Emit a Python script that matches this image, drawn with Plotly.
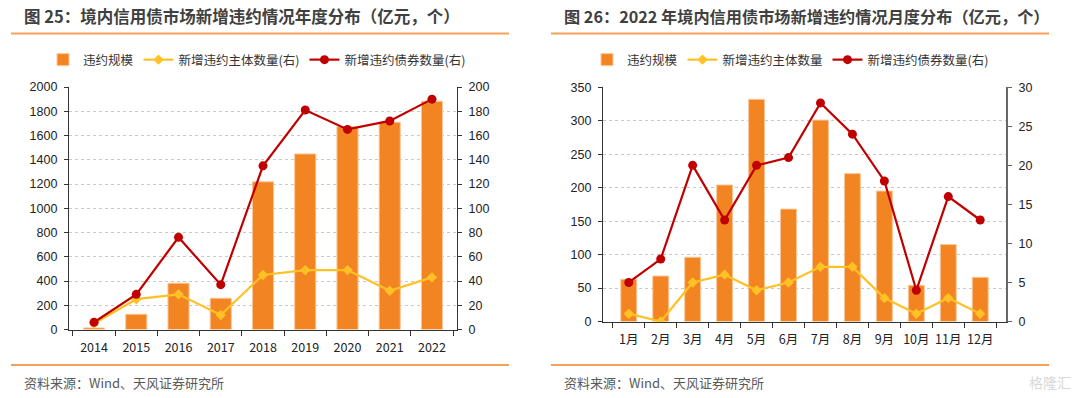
import plotly.graph_objects as go

# ---------------- data ----------------
years = ["2014", "2015", "2016", "2017", "2018", "2019", "2020", "2021", "2022"]
year_scale = [13, 126, 382, 258, 1218, 1448, 1673, 1709, 1882]
year_issuers = [5, 25, 29, 12, 45, 49, 49, 32, 43]
year_bonds = [6, 29, 76, 37, 135, 181, 165, 172, 190]

months = ["1月", "2月", "3月", "4月", "5月", "6月", "7月", "8月", "9月", "10月", "11月", "12月"]
month_scale = [63, 68, 96, 204, 332, 168, 301, 221, 195, 54, 115, 66]
month_issuers = [1, 0, 5, 6, 4, 5, 7, 7, 3, 1, 3, 1]
month_bonds = [5, 8, 20, 13, 20, 21, 28, 24, 18, 4, 16, 13]

left_ticks = [0, 200, 400, 600, 800, 1000, 1200, 1400, 1600, 1800, 2000]
left_ticks_r = [0, 20, 40, 60, 80, 100, 120, 140, 160, 180, 200]
right_ticks = [0, 50, 100, 150, 200, 250, 300, 350]
right_ticks_r = [0, 5, 10, 15, 20, 25, 30]

title_left = "图 25：境内信用债市场新增违约情况年度分布（亿元，个）"
title_right = "图 26：2022 年境内信用债市场新增违约情况月度分布（亿元，个）"
source_text = "资料来源：Wind、天风证券研究所"

# ---------------- style ----------------
ORANGE = "#F28522"
YELLOW = "#FFC125"
RED = "#C00000"
LINE_ORANGE = "#F5A05A"
CJK = "Noto Sans CJK SC"
NUM = "Liberation Sans, Arial, sans-serif"
W, H = 1080, 398

def px_x(x):
    return x / W

def px_y(y):
    return (H - y) / H

fig = go.Figure()

# left panel
fig.add_trace(go.Bar(x=years, y=year_scale, name="违约规模", marker=dict(color=ORANGE, line=dict(color="#F9C79B", width=1)),
                     width=0.5, xaxis="x", yaxis="y", legend="legend"))
fig.add_trace(go.Scatter(x=years, y=year_issuers, name="新增违约主体数量(右)", mode="lines+markers",
                         line=dict(color=YELLOW, width=2.2), marker=dict(symbol="diamond", size=8, color=YELLOW),
                         xaxis="x", yaxis="y2", legend="legend"))
fig.add_trace(go.Scatter(x=years, y=year_bonds, name="新增违约债券数量(右)", mode="lines+markers",
                         line=dict(color=RED, width=2.2), marker=dict(symbol="circle", size=9, color=RED),
                         xaxis="x", yaxis="y2", legend="legend"))

# right panel
fig.add_trace(go.Bar(x=months, y=month_scale, name="违约规模", marker=dict(color=ORANGE, line=dict(color="#F9C79B", width=1)),
                     width=0.5, xaxis="x2", yaxis="y3", legend="legend2"))
fig.add_trace(go.Scatter(x=months, y=month_issuers, name="新增违约主体数量", mode="lines+markers",
                         line=dict(color=YELLOW, width=2.2), marker=dict(symbol="diamond", size=8, color=YELLOW),
                         xaxis="x2", yaxis="y4", legend="legend2"))
fig.add_trace(go.Scatter(x=months, y=month_bonds, name="新增违约债券数量(右)", mode="lines+markers",
                         line=dict(color=RED, width=2.2), marker=dict(symbol="circle", size=9, color=RED),
                         xaxis="x2", yaxis="y4", legend="legend2"))

tickfont = dict(family=NUM, size=12.5, color="#222222")
xtickfont = dict(family=CJK + ", " + NUM, size=12.5, color="#222222")

def yax(domain, rng, ticks, side="left", overlay=None, anchor=None, grid=True, linecolor="#333333", linewidth=1.2):
    d = dict(domain=domain, range=rng, tickvals=ticks, ticktext=[str(t) for t in ticks],
             side=side, showline=True, linecolor=linecolor, linewidth=linewidth,
             ticks="outside", ticklen=4, tickcolor=linecolor, tickfont=tickfont,
             showgrid=grid, gridcolor="#C8C8C8", griddash="dot", gridwidth=1,
             zeroline=False, fixedrange=True, ticklabelstandoff=4, automargin=False)
    if overlay:
        d["overlaying"] = overlay
    if anchor:
        d["anchor"] = anchor
    return d

def xax(domain, anchor):
    return dict(domain=domain, anchor=anchor, showline=True, linecolor="#333333", linewidth=1.2,
                ticks="outside", tickson="boundaries", ticklen=5, tickcolor="#333333",
                tickfont=xtickfont, tickangle=0, showgrid=False, fixedrange=True,
                ticklabelstandoff=6, automargin=False)

lx0, lx1 = px_x(69), px_x(457)
ly0, ly1 = px_y(329.5), px_y(87)
rx0, rx1 = px_x(603), px_x(1006)
ry0, ry1 = px_y(321.5), px_y(87.3)

legend_font = dict(family=CJK, size=12.5, color="#333333")

fig.update_layout(
    width=W, height=H, margin=dict(l=0, r=0, t=0, b=0, pad=0, autoexpand=False),
    paper_bgcolor="white", plot_bgcolor="white",
    hovermode=False,
    xaxis=xax([lx0, lx1], "y"),
    yaxis=yax([ly0, ly1], [0, 2000], left_ticks, anchor="x"),
    yaxis2=yax([ly0, ly1], [0, 200], left_ticks_r, side="right", overlay="y", anchor="x", grid=False),
    xaxis2=xax([rx0, rx1], "y3"),
    yaxis3=yax([ry0, ry1], [0, 350], right_ticks, anchor="x2"),
    yaxis4=yax([ry0, ry1], [0, 30], right_ticks_r, side="right", overlay="y3", anchor="x2", grid=False,
               linecolor="#666666", linewidth=2),
    legend=dict(orientation="h", x=px_x(43), y=px_y(60), xanchor="left", yanchor="middle",
                font=legend_font, bgcolor="rgba(0,0,0,0)", itemwidth=30),
    legend2=dict(orientation="h", x=px_x(587), y=px_y(60), xanchor="left", yanchor="middle",
                 font=legend_font, bgcolor="rgba(0,0,0,0)", itemwidth=30),
    showlegend=True,
)

annotations = [
    dict(text="<b>" + title_left + "</b>", x=px_x(22), y=px_y(16), xref="paper", yref="paper",
         xanchor="left", yanchor="middle", showarrow=False,
         font=dict(family=CJK, size=16.5, color="#404040")),
    dict(text="<b>" + title_right + "</b>", x=px_x(562), y=px_y(16), xref="paper", yref="paper",
         xanchor="left", yanchor="middle", showarrow=False,
         font=dict(family=CJK, size=16.2, color="#404040")),
    dict(text=source_text, x=px_x(22), y=px_y(382), xref="paper", yref="paper",
         xanchor="left", yanchor="middle", showarrow=False,
         font=dict(family=CJK, size=13, color="#595959")),
    dict(text=source_text, x=px_x(562), y=px_y(382), xref="paper", yref="paper",
         xanchor="left", yanchor="middle", showarrow=False,
         font=dict(family=CJK, size=13, color="#595959")),
    dict(text="格隆汇", x=px_x(1050), y=px_y(382), xref="paper", yref="paper",
         xanchor="center", yanchor="middle", showarrow=False,
         font=dict(family=CJK, size=14, color="#D8D8D8")),
]
fig.update_layout(annotations=annotations)

shapes = []
for (a, b) in [(11, 509), (551, 1049)]:
    for yy in (33.5, 365):
        shapes.append(dict(type="line", xref="paper", yref="paper", x0=px_x(a), x1=px_x(b),
                           y0=px_y(yy), y1=px_y(yy), line=dict(color=LINE_ORANGE, width=2)))
fig.update_layout(shapes=shapes)

fig.write_html("out.html", config={"displayModeBar": False},
               post_script="document.body.style.margin='0';document.body.style.overflow='hidden';")
